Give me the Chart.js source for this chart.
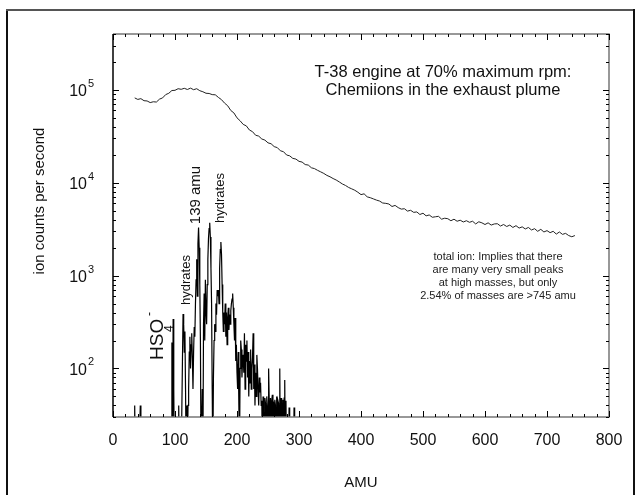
<!DOCTYPE html>
<html>
<head>
<meta charset="utf-8">
<script src="https://cdn.jsdelivr.net/npm/chart.js@4.4.1/dist/chart.umd.min.js"></script>
<style>
  body { margin: 0; background: #fff; }
  canvas { display: block; }
</style>
</head>
<body>
<canvas id="chart" width="642" height="495"></canvas>
<script>
// total ion signal, every 5 amu from 35 to 745
const ionStart = 35;
const ionCounts = [
  82000, 79000, 80500, 76500, 76000, 73000, 74500, 74000, 79500, 82000,
  89000, 92000, 98500, 99000, 103000, 101500, 104000, 101000, 104500, 100500,
  103000, 98000, 95500, 92000, 91500, 89000, 88500, 83000, 78500, 72000,
  67500, 60000, 56500, 50000, 46500, 42500, 41000, 37000, 35500, 32500,
  31800, 29600, 28800, 26900, 26300, 24500, 23900, 22100, 21600, 19900,
  19500, 18300, 18000, 17000, 16700, 15700, 15500, 14500, 14200, 13600,
  13100, 12600, 12000, 11600, 11100, 10700, 10200, 9700, 9350, 8900,
  8600, 8300, 7900, 7450, 7600, 7050, 6900, 6700, 6500, 6350,
  6050, 6000, 5900, 5550, 5700, 5400, 5200, 5250, 4950, 5050,
  4800, 4850, 4550, 4700, 4400, 4500, 4250, 4300, 4350, 4050,
  4150, 4100, 3900, 4050, 3850, 3950, 3780, 3900, 3750, 3850,
  3600, 3800, 3700, 3550, 3700, 3500, 3600, 3620, 3420, 3550,
  3380, 3500, 3300, 3450, 3250, 3350, 3180, 3300, 3100, 3200,
  3000, 3150, 2950, 3050, 2900, 3000, 2800, 2950, 2780, 2850,
  2700, 2620, 2700
];

// mass spectrum, 1 amu steps from 30 to 299 (10 = below the axis)
const specStart = 30;
const specCounts = [
  10, 10, 10, 10, 10, 40, 10, 10, 10, 10,
  10, 10, 10, 10, 40, 10, 10, 10, 10, 10,
  10, 10, 10, 10, 10, 10, 10, 10, 10, 10,
  10, 10, 10, 10, 10, 10, 10, 10, 10, 10,
  10, 10, 10, 10, 10, 10, 10, 10, 10, 10,
  10, 10, 10, 10, 10, 10, 10, 10, 10, 10,
  10, 10, 10, 10, 10, 190, 10, 340, 60, 10,
  10, 10, 10, 10, 10, 10, 40, 10, 10, 10,
  10, 10, 120, 385, 300, 150, 250, 60, 10, 40,
  10, 40, 60, 150, 220, 100, 180, 240, 130, 60,
  150, 280, 220, 500, 900, 1500, 600, 2200, 3300, 2000,
  800, 200, 10, 10, 60, 10, 300, 640, 200, 900,
  420, 300, 800, 1500, 2500, 3200, 3700, 2600, 1200, 500,
  60, 10, 80, 200, 300, 250, 500, 380, 700, 600,
  700, 500, 1200, 1900, 2300, 1700, 800, 400, 250, 400,
  300, 500, 220, 400, 180, 350, 450, 260, 380, 300,
  420, 500, 560, 640, 450, 300, 200, 350, 120, 180,
  90, 60, 150, 40, 10, 100, 200, 160, 80, 120,
  140, 90, 240, 60, 180, 120, 200, 80, 150, 50,
  120, 70, 160, 60, 100, 130, 240, 60, 110, 40,
  90, 50, 140, 100, 60, 40, 80, 55, 70, 40,
  45, 10, 50, 35, 10, 48, 42, 10, 50, 40,
  10, 100, 45, 10, 48, 10, 45, 52, 10, 44,
  10, 46, 40, 10, 50, 10, 45, 42, 10, 100,
  10, 48, 44, 10, 46, 10, 48, 75, 10, 45,
  10, 10, 10, 10, 38, 10, 10, 10, 10, 10,
  10, 10, 38, 10, 10, 10, 10, 10, 10, 10
];

const xTicks = [0, 100, 200, 300, 400, 500, 600, 700, 800];
const yDecades = [2, 3, 4, 5];

const titleLines = ['T-38 engine at 70% maximum rpm:', 'Chemiions in the exhaust plume'];
const noteLines = ['total ion: Implies that there', 'are many very small peaks',
  'at high masses, but only', '2.54% of masses are >745 amu'];

const FONT = '"Liberation Sans", Arial, sans-serif';

const ionData = ionCounts.map((v, i) => ({ x: ionStart + i * 5, y: v }));
const specData = specCounts.map((v, i) => ({ x: specStart + i, y: v }));

function rotText(ctx, text, x, y, size) {
  ctx.save();
  ctx.translate(x, y);
  ctx.rotate(-Math.PI / 2);
  ctx.font = size + 'px ' + FONT;
  ctx.textAlign = 'center';
  ctx.textBaseline = 'middle';
  ctx.fillText(text, 0, 0);
  ctx.restore();
}

const decorations = {
  id: 'decorations',
  afterDraw(chart) {
    const ctx = chart.ctx;
    const xs = chart.scales.x, ys = chart.scales.y;
    const a = chart.chartArea;
    ctx.save();

    // page frame
    ctx.fillStyle = '#111';
    ctx.fillRect(6, 9, 2, 486);
    ctx.fillStyle = '#555';
    ctx.fillRect(6, 9, 629, 2);
    ctx.fillStyle = '#111';
    ctx.fillRect(633, 9, 2, 486);

    // plot box
    ctx.lineWidth = 1.5;
    ctx.strokeStyle = '#777';
    ctx.beginPath();
    ctx.moveTo(a.left, a.top); ctx.lineTo(a.right, a.top);
    ctx.lineTo(a.right, a.bottom); ctx.lineTo(a.left, a.bottom);
    ctx.stroke();
    ctx.strokeStyle = '#000';
    ctx.beginPath();
    ctx.moveTo(a.left, a.top); ctx.lineTo(a.left, a.bottom);
    ctx.stroke();

    // inward ticks
    ctx.lineWidth = 1;
    ctx.strokeStyle = '#000';
    ctx.beginPath();
    for (let v = 0; v <= 800; v += 20) {
      const px = Math.round(xs.getPixelForValue(v)) + 0.5;
      const len = v % 100 === 0 ? 6 : 3;
      ctx.moveTo(px, a.bottom); ctx.lineTo(px, a.bottom - len);
      ctx.moveTo(px, a.top); ctx.lineTo(px, a.top + len);
    }
    for (let e = 1; e <= 5; e++) {
      for (let m = 1; m <= 9; m++) {
        const v = m * Math.pow(10, e);
        if (v < ys.min || v > ys.max) continue;
        const py = Math.round(ys.getPixelForValue(v)) + 0.5;
        const len = m === 1 ? 6 : 3;
        ctx.moveTo(a.left, py); ctx.lineTo(a.left + len, py);
        ctx.moveTo(a.right, py); ctx.lineTo(a.right - len, py);
      }
    }
    ctx.stroke();

    // x tick labels
    ctx.fillStyle = '#111';
    ctx.font = '16px ' + FONT;
    ctx.textAlign = 'center';
    ctx.textBaseline = 'middle';
    xTicks.forEach(v => ctx.fillText(String(v), xs.getPixelForValue(v), 441));

    // y tick labels 10^n
    yDecades.forEach(e => {
      const py = ys.getPixelForValue(Math.pow(10, e));
      ctx.font = '16px ' + FONT;
      ctx.textAlign = 'right';
      ctx.fillText('10', 87, py + 2);
      ctx.font = '11px ' + FONT;
      ctx.textAlign = 'left';
      ctx.fillText(String(e), 88, py - 6);
    });

    // axis titles
    ctx.font = '15px ' + FONT;
    ctx.textAlign = 'center';
    ctx.fillText('AMU', (a.left + a.right) / 2, 483);
    rotText(ctx, 'ion counts per second', 40, 201, 15);

    // plot title
    ctx.font = '16.5px ' + FONT;
    ctx.textAlign = 'center';
    ctx.fillText(titleLines[0], 443, 72);
    ctx.fillText(titleLines[1], 443, 90);

    // note
    ctx.font = '11px ' + FONT;
    ctx.fillStyle = '#222';
    noteLines.forEach((t, i) => ctx.fillText(t, 498, 257 + i * 13));

    // peak labels
    ctx.fillStyle = '#111';
    rotText(ctx, '139 amu', 196, 195, 15);
    rotText(ctx, 'hydrates', 220, 198, 13);
    rotText(ctx, 'hydrates', 186, 280, 13);

    // HSO4-
    ctx.save();
    ctx.translate(158, 360);
    ctx.rotate(-Math.PI / 2);
    ctx.font = '19px ' + FONT;
    ctx.textAlign = 'left';
    ctx.textBaseline = 'middle';
    ctx.fillText('HSO', 0, 0);
    ctx.font = '12px ' + FONT;
    ctx.fillText('4', 28, 12);
    ctx.fillText('-', 44, -8);
    ctx.restore();

    ctx.restore();
  }
};

new Chart(document.getElementById('chart'), {
  type: 'line',
  data: {
    datasets: [
      {
        label: 'total ion',
        data: ionData,
        borderColor: '#222',
        borderWidth: 1,
        pointRadius: 0,
        tension: 0
      },
      {
        label: 'spectrum',
        data: specData,
        borderColor: '#000',
        borderWidth: 1.2,
        pointRadius: 0,
        tension: 0
      }
    ]
  },
  options: {
    responsive: false,
    animation: false,
    devicePixelRatio: 1,
    layout: { padding: { left: 113, right: 33, top: 34, bottom: 78 } },
    scales: {
      x: { type: 'linear', min: 0, max: 800, display: false },
      y: { type: 'logarithmic', min: 30, max: 400000, display: false }
    },
    plugins: {
      legend: { display: false },
      tooltip: { enabled: false }
    }
  },
  plugins: [decorations]
});
</script>
</body>
</html>
